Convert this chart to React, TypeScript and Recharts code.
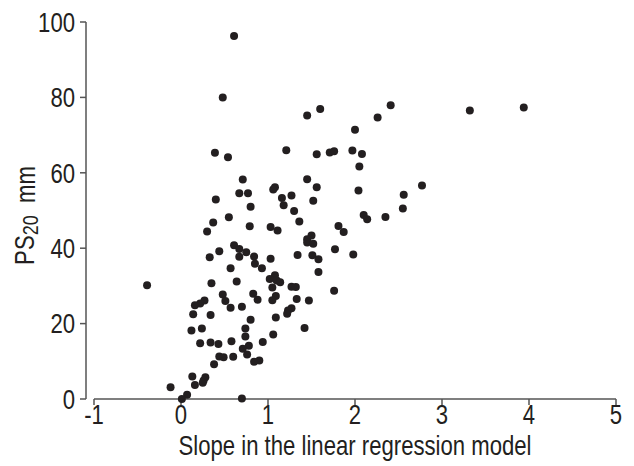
import React from "react";
import { ScatterChart, Scatter, XAxis, YAxis, ReferenceLine } from "recharts";

const slopeValues = [
  0.61, 0.48, 0.39, 0.54, 0.71, 0.67, 0.77, 0.40, 0.80, 1.45,
  1.60, 2.41, 2.26, 2.00, 1.21, 1.56, 1.71, 1.76, 1.97, 2.08,
  2.05, 1.45, 1.56, 1.08, 1.06, 1.16, 1.27, 1.18, 1.52, 2.04,
  2.77, 2.56, 2.55, 1.30, 3.32, 3.94, 1.36, 1.03, 1.11, 2.10,
  2.14, 2.35, 1.81, 1.87, 1.50, 1.45, 1.45, 1.52, 1.77, 1.98,
  1.34, 1.51, 1.58, 1.03, 0.93, 1.58, 1.08, 1.02, 1.10, 1.14,
  1.05, 1.27, 1.32, 1.76, 1.09, 1.05, 1.33, 1.47, 1.27, 1.23,
  1.22, 1.09, 1.42, 1.06, 0.94, 0.90, 0.84, 0.55, 0.37, 0.79,
  0.30, 0.61, 0.67, 0.75, 0.44, 0.33, 0.67, 0.84, 0.85, 0.57,
  0.64, 0.35, -0.39, 0.83, 0.88, 0.48, 0.51, 0.27, 0.22, 0.16,
  0.57, 0.70, 0.14, 0.34, 0.80, 0.24, 0.12, 0.74, 0.74, 0.22,
  0.34, 0.43, 0.58, 0.78, 0.71, 0.76, 0.44, 0.49, 0.60, 0.38,
  0.13, 0.28, 0.26, 0.25, 0.16, -0.12, 0.07, 0.01, 0.70,
];

const ps20Values = [
  96.3, 80.0, 65.3, 64.1, 58.2, 54.6, 54.6, 52.9, 51.0, 75.2,
  76.9, 77.9, 74.7, 71.4, 66.0, 64.9, 65.4, 65.7, 65.9, 65.0,
  61.7, 58.3, 56.2, 56.2, 55.6, 53.3, 54.0, 51.4, 52.6, 55.3,
  56.6, 54.2, 50.5, 49.9, 76.5, 77.3, 47.1, 45.6, 44.7, 48.8,
  47.7, 48.3, 45.9, 44.3, 43.4, 42.4, 41.5, 41.2, 39.7, 38.3,
  38.2, 38.1, 37.1, 37.2, 34.7, 33.7, 32.8, 31.8, 31.4, 31.0,
  29.6, 29.8, 29.7, 28.7, 27.3, 26.2, 26.5, 26.1, 24.1, 23.5,
  22.6, 21.6, 18.8, 17.1, 15.1, 10.2, 9.9, 48.2, 46.8, 45.8,
  44.4, 40.8, 39.8, 38.9, 39.2, 37.6, 37.7, 37.8, 35.9, 34.7,
  31.2, 30.7, 30.2, 27.9, 26.3, 27.7, 26.0, 26.1, 25.3, 24.9,
  24.2, 24.5, 22.5, 22.3, 21.0, 18.7, 18.2, 18.7, 16.6, 14.8,
  15.0, 14.6, 15.3, 14.1, 13.3, 11.8, 11.3, 11.1, 11.2, 9.2,
  6.0, 5.8, 4.9, 4.3, 3.7, 3.1, 1.1, 0.0, 0.1,
];

const xTicks = [-1, 0, 1, 2, 3, 4, 5];
const yTicks = [0, 20, 40, 60, 80, 100];

const data = slopeValues.map((x, i) => ({ x, y: ps20Values[i] }));

const FONT = "'Liberation Sans', Arial, sans-serif";
const NARROW = 0.82;
const FS = 27;
const TEXT_COLOR = "#231f20";
const AXIS_COLOR = "#555555";

const Dot = (props: any) => {
  const { cx, cy } = props;
  if (cx == null || cy == null) return null;
  return <circle cx={cx} cy={cy} r={4} fill="#231f20" />;
};

const XTick = (props: any) => {
  const { x, y, payload } = props;
  return (
    <g transform={`translate(${x},${y})`}>
      <text
        transform={`scale(${NARROW},1)`}
        textAnchor="middle"
        dy="0.7em"
        fontFamily={FONT}
        fontSize={FS}
        fill={TEXT_COLOR}
      >
        {payload.value}
      </text>
    </g>
  );
};

const YTick = (props: any) => {
  const { x, y, payload } = props;
  return (
    <g transform={`translate(${x},${y})`}>
      <text
        transform={`scale(${NARROW},1)`}
        textAnchor="end"
        dy="0.36em"
        fontFamily={FONT}
        fontSize={FS}
        fill={TEXT_COLOR}
      >
        {payload.value}
      </text>
    </g>
  );
};

const XLabel = (props: any) => {
  const vb = props.viewBox || {};
  const cx = vb.x + vb.width / 2 + 4;
  const cy = 455;
  return (
    <g transform={`translate(${cx},${cy})`}>
      <text
        transform={`scale(${NARROW},1)`}
        textAnchor="middle"
        fontFamily={FONT}
        fontSize={FS}
        fill={TEXT_COLOR}
      >
        Slope in the linear regression model
      </text>
    </g>
  );
};

const YLabel = (props: any) => {
  const vb = props.viewBox || {};
  const cx = 25;
  const cy = vb.y + vb.height / 2 + 5;
  return (
    <g transform={`translate(${cx},${cy}) rotate(-90) scale(${NARROW},1)`}>
      <text
        textAnchor="middle"
        dominantBaseline="central"
        fontFamily={FONT}
        fontSize={FS}
        fill={TEXT_COLOR}
      >
        PS
        <tspan fontSize={22} dy={5}>20</tspan>
        <tspan dy={-5}>{"\u00a0\u00a0mm"}</tspan>
      </text>
    </g>
  );
};

export default function App() {
  return (
    <div style={{ position: "absolute", left: 0, top: 0, background: "#fff" }}>
      <ScatterChart
        width={634}
        height={466}
        margin={{ top: 22, right: 18, bottom: 0, left: 0 }}
      >
        <XAxis
          type="number"
          dataKey="x"
          domain={[-1, 5]}
          ticks={xTicks}
          interval={0}
          padding={{ left: 8, right: 0 }}
          axisLine={false}
          tickLine={{ stroke: AXIS_COLOR, strokeWidth: 1.5 }}
          tickSize={6}
          tickMargin={0}
          height={67}
          tick={<XTick />}
          label={<XLabel />}
        />
        <YAxis
          type="number"
          dataKey="y"
          domain={[0, 100]}
          ticks={yTicks}
          interval={0}
          width={86}
          axisLine={{ stroke: AXIS_COLOR, strokeWidth: 1.5 }}
          tickLine={{ stroke: AXIS_COLOR, strokeWidth: 1.5 }}
          tickSize={6}
          tickMargin={5}
          tick={<YTick />}
          label={<YLabel />}
        />
        <ReferenceLine
          segment={[{ x: -1, y: 0 }, { x: 5, y: 0 }]}
          stroke={AXIS_COLOR}
          strokeWidth={1.5}
          ifOverflow="visible"
        />
        <Scatter data={data} shape={<Dot />} isAnimationActive={false} />
      </ScatterChart>
    </div>
  );
}
